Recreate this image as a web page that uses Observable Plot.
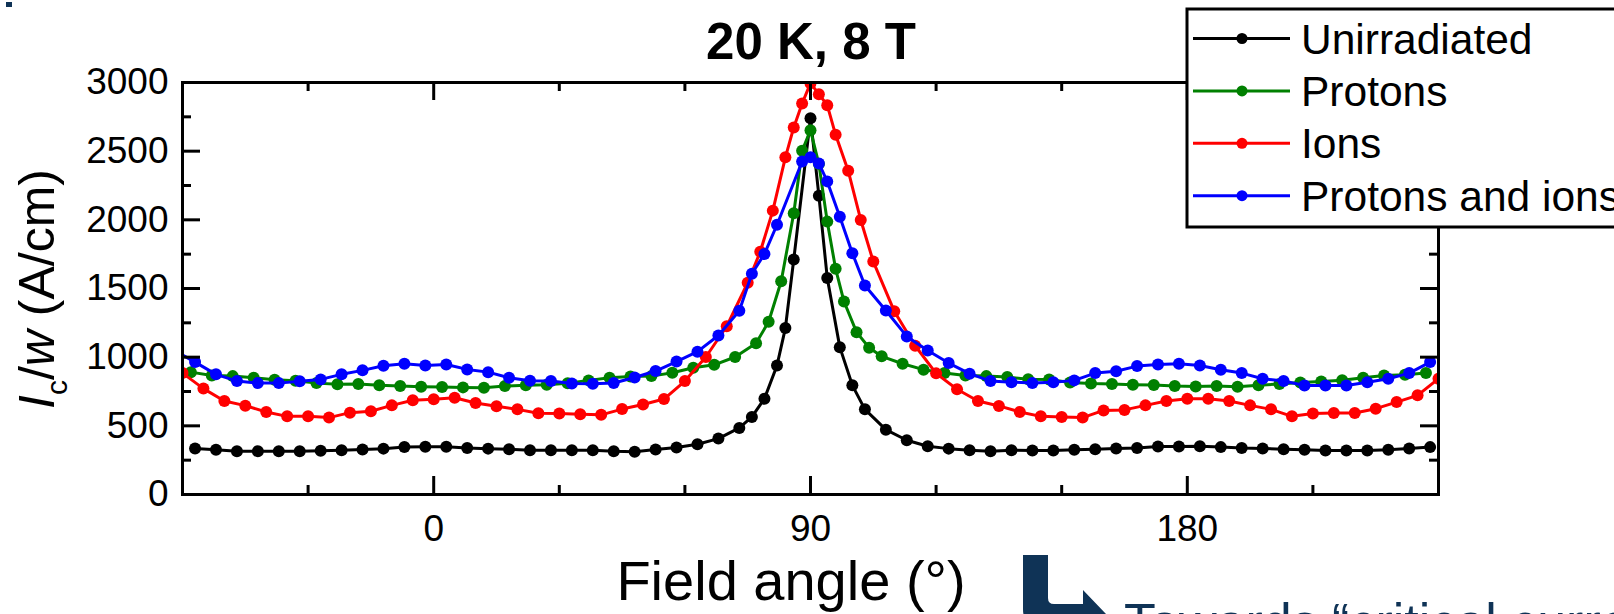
<!DOCTYPE html>
<html><head><meta charset="utf-8">
<script src="https://cdn.jsdelivr.net/npm/d3@7"></script>
<script src="https://cdn.jsdelivr.net/npm/@observablehq/plot@0.6"></script>
<style>
html,body{margin:0;padding:0;background:#fff;}
#chart{position:relative;width:1614px;height:614px;overflow:hidden;background:#fff;}
</style></head><body><div id="chart"></div>
<script>
// ---- data ----
const chartTitle = "20 K, 8 T";
const xLabel = "Field angle (°)";
const seriesNames = ["Unirradiated", "Protons", "Ions", "Protons and ions"];
const seriesColors = ["#000000", "#008000", "#ff0000", "#0000ff"];

const unirrAngle = [-57,-52,-47,-42,-37,-32,-27,-22,-17,-12,-7,-2,3,8,13,18,23,28,33,38,43,48,53,58,63,68,73,76,79,82,84,86,90,92,94,97,100,103,108,113,118,123,128,133,138,143,148,153,158,163,168,173,178,183,188,193,198,203,208,213,218,223,228,233,238];
const unirrIcw = [335,325,315,315,315,315,318,322,327,334,346,347,347,339,334,329,322,322,322,322,315,312,327,342,366,407,485,565,698,940,1212,1711,2740,2176,1577,1073,795,620,472,395,351,334,322,315,322,321,321,325,330,335,338,349,349,351,345,338,335,330,325,321,321,321,325,335,345];

const protonAngle = [-58,-53,-48,-43,-38,-33,-28,-23,-18,-13,-8,-3,2,7,12,17,22,27,32,37,42,47,52,57,62,67,72,77,80,83,86,88,90,92,94,96,98,101,104,107,112,117,122,127,132,137,142,147,152,157,162,167,172,177,182,187,192,197,202,207,212,217,222,227,232,237];
const protonIcw = [891,867,862,850,835,828,811,803,805,795,790,785,782,780,778,790,795,800,810,831,850,860,862,886,923,944,1001,1102,1258,1553,2048,2503,2653,2406,1987,1643,1405,1182,1069,1006,952,909,884,867,862,855,840,838,815,808,805,800,798,790,787,790,785,795,805,815,822,832,850,866,872,884];

const ionAngle = [-60,-55,-50,-45,-40,-35,-30,-25,-20,-15,-10,-5,0,5,10,15,20,25,30,35,40,45,50,55,60,65,70,75,78,81,84,86,88,90,92,94,96,99,102,105,110,115,120,125,130,135,140,145,150,155,160,165,170,175,180,185,190,195,200,205,210,215,220,225,230,235,240];
const ionIcw = [884,771,681,647,601,569,569,560,596,606,649,686,693,705,666,642,620,591,589,584,580,622,655,695,826,1001,1225,1542,1768,2067,2455,2673,2847,2995,2915,2835,2619,2358,1999,1696,1335,1083,882,766,681,645,601,569,564,560,612,616,649,681,698,698,681,649,620,569,589,594,594,625,673,722,843];

const bothAngle = [-62,-57,-52,-47,-42,-37,-32,-27,-22,-17,-12,-7,-2,3,8,13,18,23,28,33,38,43,48,53,58,63,68,73,76,79,82,88,90,92,94,97,100,103,108,113,118,123,128,133,138,143,148,153,158,163,168,173,178,183,188,193,198,203,208,213,218,223,228,233,238];
const bothIcw = [1050,964,875,826,811,811,824,838,875,904,938,952,940,947,911,891,850,829,826,809,807,812,852,899,968,1040,1158,1338,1607,1752,1964,2425,2455,2411,2280,2023,1757,1522,1340,1151,1049,957,880,826,818,811,818,831,884,897,935,947,952,940,909,884,843,826,794,794,794,818,843,884,964];

const xMajorTicks = [0, 90, 180];
const xMinorTicks = [-30, 30, 60, 120, 150, 210];
const yMajorTicks = [0, 500, 1000, 1500, 2000, 2500, 3000];
const yMinorTicks = [250, 750, 1250, 1750, 2250, 2750];

// ---- layout ----
const W = 1614, H = 614, mL = 182, mR = 176, mT = 82, mB = 120;
const innerW = W - mL - mR, innerH = H - mT - mB;
const font = "'Liberation Sans', Arial, Helvetica, sans-serif";
const navy = "#0f3356";

const angleLists = [unirrAngle, protonAngle, ionAngle, bothAngle];
const valueLists = [unirrIcw, protonIcw, ionIcw, bothIcw];
const series = seriesNames.map((name, i) => ({
  name, color: seriesColors[i],
  data: angleLists[i].map((a, j) => ({angle: a, icw: valueLists[i][j], series: name}))
}));

const dataMarks = [];
series.forEach(s => {
  dataMarks.push(Plot.line(s.data, {x: "angle", y: "icw", stroke: s.color, strokeWidth: 3, clip: true}));
  dataMarks.push(Plot.dot(s.data, {x: "angle", y: "icw", r: 6, fill: s.color, stroke: "none", clip: true}));
});

const plot = Plot.plot({
  width: W, height: H,
  marginLeft: mL, marginRight: mR, marginTop: mT, marginBottom: mB,
  style: {fontFamily: font, fontSize: "37px", background: "white", color: "black", overflow: "hidden"},
  x: {domain: [-60, 240], axis: null},
  y: {domain: [0, 3000], axis: null},
  marks: [
    ...dataMarks,
    Plot.frame({stroke: "black", strokeWidth: 3}),
    // inward ticks on all four sides
    Plot.ruleX(xMajorTicks, {x: d => d, insetTop: innerH - 18, strokeWidth: 3}),
    Plot.ruleX(xMinorTicks, {x: d => d, insetTop: innerH - 9, strokeWidth: 3}),
    Plot.ruleX(xMajorTicks, {x: d => d, insetBottom: innerH - 18, strokeWidth: 3}),
    Plot.ruleX(xMinorTicks, {x: d => d, insetBottom: innerH - 9, strokeWidth: 3}),
    Plot.ruleY(yMajorTicks, {y: d => d, insetRight: innerW - 18, strokeWidth: 3}),
    Plot.ruleY(yMinorTicks, {y: d => d, insetRight: innerW - 9, strokeWidth: 3}),
    Plot.ruleY(yMajorTicks, {y: d => d, insetLeft: innerW - 18, strokeWidth: 3}),
    Plot.ruleY(yMinorTicks, {y: d => d, insetLeft: innerW - 9, strokeWidth: 3}),
    // tick labels
    Plot.text(xMajorTicks, {x: d => d, frameAnchor: "bottom", dy: 20, lineAnchor: "top", text: d => String(d), fontSize: 37}),
    Plot.text(yMajorTicks, {y: d => d, frameAnchor: "left", dx: -14, textAnchor: "end", text: d => String(d), fontSize: 37})
  ]
});

document.getElementById("chart").appendChild(plot);
const svg = d3.select(plot);

// title
svg.append("text").attr("x", 811).attr("y", 59).attr("text-anchor", "middle")
  .attr("font-size", 51).attr("font-weight", "bold").attr("font-family", font).attr("fill", "black")
  .text(chartTitle);

// x axis title
svg.append("text").attr("x", 791).attr("y", 600).attr("text-anchor", "middle")
  .attr("font-size", 56).attr("font-family", font).attr("fill", "black").text(xLabel);

// y axis title: I_c/w (A/cm)
const yl = svg.append("text").attr("transform", "translate(54,289) rotate(-90)")
  .attr("text-anchor", "middle").attr("font-size", 50).attr("font-family", font).attr("fill", "black");
yl.append("tspan").attr("font-style", "italic").text("I");
yl.append("tspan").attr("font-size", 30).attr("dy", 13).text("c");
yl.append("tspan").attr("dy", -13).text("/");
yl.append("tspan").attr("font-style", "italic").text("w");
yl.append("tspan").text(" (A/cm)");

// legend
const lg = svg.append("g").attr("text-anchor", "start");
lg.append("rect").attr("x", 1187).attr("y", 9).attr("width", 600).attr("height", 218)
  .attr("fill", "white").attr("stroke", "black").attr("stroke-width", 3);
seriesNames.forEach((name, i) => {
  const y = 38.5 + i * 52.4;
  lg.append("line").attr("x1", 1193).attr("x2", 1290).attr("y1", y).attr("y2", y)
    .attr("stroke", seriesColors[i]).attr("stroke-width", 3);
  lg.append("circle").attr("cx", 1242).attr("cy", y).attr("r", 5.5).attr("fill", seriesColors[i]);
  lg.append("text").attr("x", 1301).attr("y", y + 15).attr("font-size", 42.5)
    .attr("text-anchor", "start").attr("font-family", font).attr("fill", "black").text(name);
});

// slide decorations (navy square, turn arrow and cut-off caption)
svg.append("rect").attr("x", 6).attr("y", 2).attr("width", 6).attr("height", 5).attr("fill", navy);
svg.append("path").attr("fill", navy)
  .attr("d", "M1023,555 H1048 V598 Q1048,604 1054,604 H1083 V590 L1106,614 L1083,638 V626 H1040 Q1023,626 1023,609 Z");
svg.append("text").attr("x", 1124).attr("y", 640).attr("font-size", 52).attr("font-family", font)
  .attr("text-anchor", "start").attr("fill", navy).text("Towards “critical current”");
</script>
</body></html>
